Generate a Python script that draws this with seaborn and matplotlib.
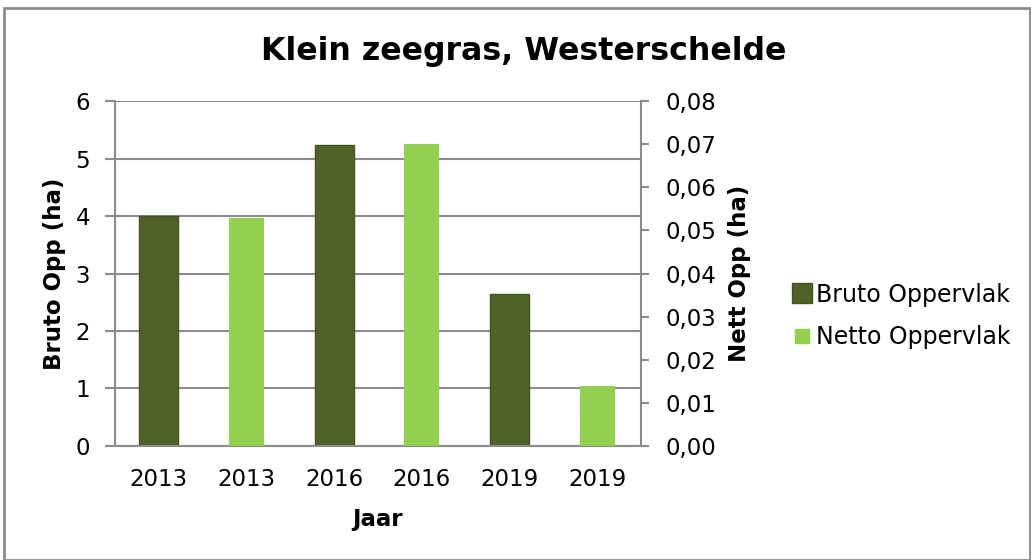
import pandas as pd
import seaborn as sns
import matplotlib.pyplot as plt
from matplotlib.patches import Rectangle
from matplotlib.lines import Line2D

# chart data
slots = ["0", "1", "2", "3", "4", "5"]
tick_labels = ["2013", "2013", "2016", "2016", "2019", "2019"]
bruto_slots = ["0", "2", "4"]
bruto_values = [4.0, 5.24, 2.64]
netto_slots = ["1", "3", "5"]
netto_values = [0.0528, 0.070, 0.0139]

dark = "#4F6228"
light = "#92D050"
grey = "#8C8C8C"

sns.set_style("white")
plt.rcParams["font.family"] = ["DejaVu Sans"]
plt.rcParams["text.color"] = "black"
plt.rcParams["axes.labelcolor"] = "black"

bruto = pd.DataFrame({"slot": bruto_slots, "value": bruto_values})
netto = pd.DataFrame({"slot": netto_slots, "value": netto_values})

fig = plt.figure(figsize=(10.31, 5.6), dpi=100)
ax = fig.add_axes([0.1115, 0.2036, 0.5102, 0.616])
ax2 = ax.twinx()

sns.barplot(data=bruto, x="slot", y="value", order=slots, color=dark,
            width=0.445, saturation=1, edgecolor="#435322", linewidth=1, ax=ax)
sns.barplot(data=netto, x="slot", y="value", order=slots, color=light,
            width=0.40, saturation=1, linewidth=0, ax=ax2)

ax.set_ylim(0, 6)
ax.set_yticks(range(0, 7))
ax2.set_ylim(0, 0.08)
ax2.set_yticks([i * 0.01 for i in range(9)])
ax2.set_yticklabels([f"{i * 0.01:.2f}".replace(".", ",") for i in range(9)])
ax.set_xlim(-0.5, 5.5)

# gridlines at left ticks
ax.yaxis.grid(True, color=grey, linewidth=1.5)
ax.set_axisbelow(True)

# x ticks between slots, labels at centres
ax.set_xticks([i - 0.5 for i in range(7)], minor=False)
ax.set_xticklabels([""] * 7)
ax.set_xticks(range(6), minor=True)
ax.set_xticklabels(tick_labels, minor=True, fontsize=16.5)
ax.tick_params(axis="x", which="minor", length=0, pad=16, labelcolor="black")
ax.tick_params(axis="x", which="major", length=7, width=1.5, color=grey, direction="out")
ax.tick_params(axis="y", length=7, width=1.5, color=grey, direction="out",
               labelsize=16.5, pad=11, labelcolor="black")
ax2.tick_params(axis="y", length=6, width=1.5, color=grey, direction="out",
                labelsize=16.5, pad=12, labelcolor="black")

for a in (ax, ax2):
    for s in a.spines.values():
        s.set_visible(False)
ax.spines["left"].set_visible(True)
ax.spines["bottom"].set_visible(True)
ax2.spines["right"].set_visible(True)
for s in (ax.spines["left"], ax.spines["bottom"], ax2.spines["right"]):
    s.set_color(grey)
    s.set_linewidth(1.5)

ax.set_xlabel("Jaar", fontsize=16.5, fontweight="bold", labelpad=12)
ax.set_ylabel("Bruto Opp (ha)", fontsize=16.5, fontweight="bold", labelpad=7)
ax2.set_ylabel("Nett Opp (ha)", fontsize=16.5, fontweight="bold", labelpad=8)

fig.text(0.508, 0.908, "Klein zeegras, Westerschelde", ha="center", va="center",
         fontsize=22.8, fontweight="bold")

handles = [
    Line2D([], [], linestyle="none", marker="s", markersize=14,
           markerfacecolor=dark, markeredgecolor="#435322"),
    Line2D([], [], linestyle="none", marker="s", markersize=9.5,
           markerfacecolor=light, markeredgecolor=light),
]
fig.legend(handles, ["Bruto Oppervlak", "Netto Oppervlak"], loc="center left",
           bbox_to_anchor=(0.766, 0.436), frameon=False, fontsize=17,
           borderpad=0, borderaxespad=0, handlelength=1.0, handletextpad=0.1,
           labelspacing=0.78)

fig.patches.append(Rectangle((0.004, 0.0), 0.995, 0.985, transform=fig.transFigure,
                             fill=False, edgecolor=grey, linewidth=2))

fig.savefig("out.png", dpi=100)
